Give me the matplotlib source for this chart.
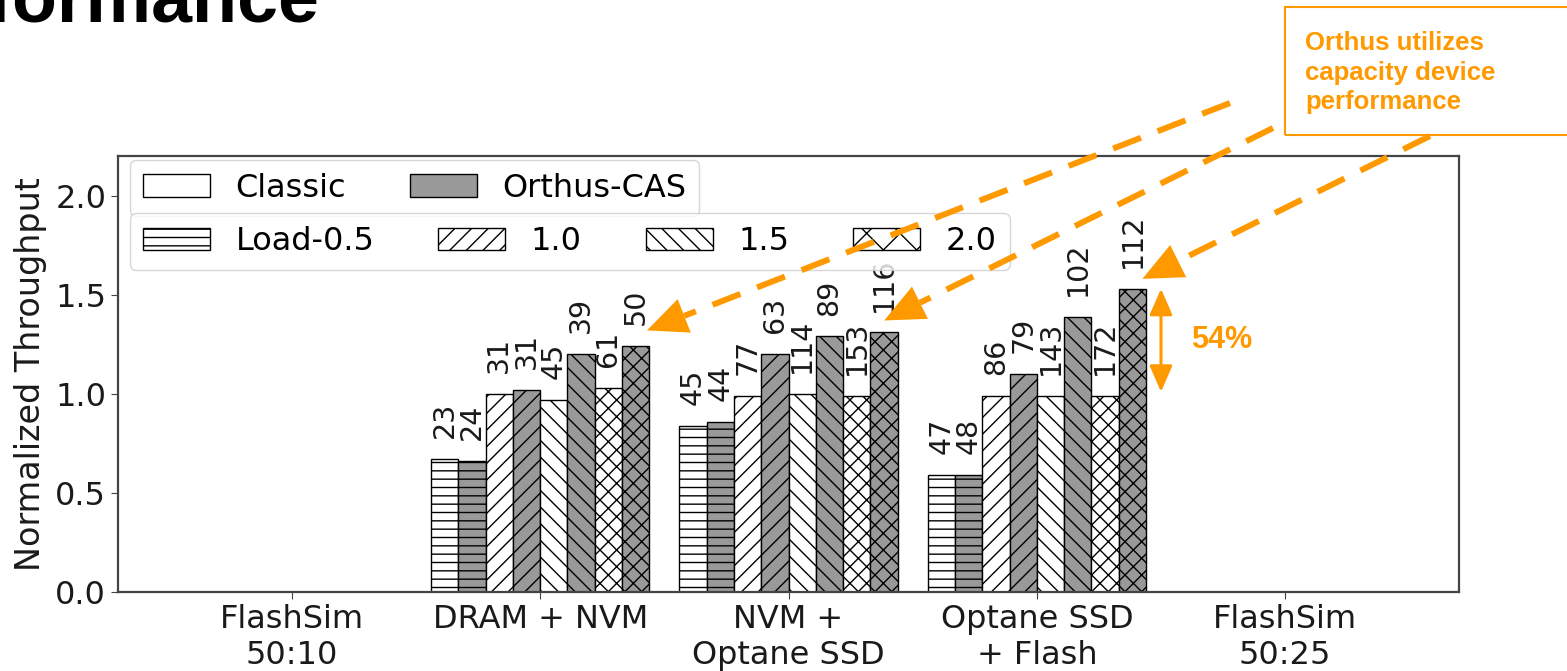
import numpy as np
import matplotlib.pyplot as plt
from matplotlib.patches import Patch, Rectangle, Polygon
from matplotlib.lines import Line2D
from matplotlib.transforms import IdentityTransform

# Data
groups = ['FlashSim\n50:10', 'DRAM + NVM', 'NVM +\nOptane SSD', 'Optane SSD\n+ Flash', 'FlashSim\n50:25']
data_groups = [1, 2, 3]          # only these groups have bars
loads = ['Load-0.5', '1.0', '1.5', '2.0']
hatches = ['--', '//', '\\\\', 'xx']
legend_hatches = ['--', '//', '\\\\', 'x']

classic_tput = [[0.67, 1.00, 0.97, 1.03],
                [0.84, 0.99, 1.00, 0.99],
                [0.59, 0.99, 0.99, 0.99]]
orthus_tput = [[0.66, 1.02, 1.20, 1.24],
               [0.86, 1.20, 1.29, 1.31],
               [0.59, 1.10, 1.39, 1.53]]
classic_lbl = [[23, 31, 45, 61], [45, 77, 114, 153], [47, 86, 143, 172]]
orthus_lbl = [[24, 31, 39, 50], [44, 63, 89, 116], [48, 79, 102, 112]]

W, H = 1567, 671
orange = '#FF9900'
grey = '#999999'
fs = 23

plt.rcParams['hatch.linewidth'] = 1.0

fig = plt.figure(figsize=(W / 100, H / 100), dpi=100)
ax = fig.add_axes([118 / W, 1 - 592 / H, (1459 - 118) / W, (592 - 156) / H])

bw = 0.11
tops = {}  # (group, load, series) -> (x, y)
for gi, g in enumerate(data_groups):
    for j in range(4):
        for s, (vals, lbls, fc) in enumerate([(classic_tput, classic_lbl, 'white'),
                                              (orthus_tput, orthus_lbl, grey)]):
            k = 2 * j + s
            x = g + (k - 3.5) * bw
            v = vals[gi][j]
            ax.bar(x, v, width=bw, facecolor=fc, edgecolor='black', hatch=hatches[j], lw=1.0)
            ax.annotate(str(lbls[gi][j]), (x, v), xytext=(0, 15), textcoords='offset points',
                        rotation=90, ha='center', va='bottom', fontsize=20.5, color='#1a1a1a')
            tops[(g, j, s)] = (x, v)

ax.set_xlim(-0.7, 4.7)
ax.set_ylim(0, 2.2)
ax.set_xticks(range(len(groups)))
ax.set_xticklabels(groups)
ax.set_yticks([0, 0.5, 1.0, 1.5, 2.0])
ax.tick_params(labelsize=fs, length=5, color='#444444', labelcolor='#1a1a1a')
ax.set_ylabel('Normalized Throughput', fontsize=24, color='#1a1a1a', labelpad=6)
for sp in ax.spines.values():
    sp.set_color('#444444')
    sp.set_linewidth(1.6)

# legends
h1 = [Patch(facecolor='white', edgecolor='black', label='Classic'),
      Patch(facecolor=grey, edgecolor='black', label='Orthus-CAS')]
h2 = [Patch(facecolor='white', edgecolor='black', hatch=h, label=l) for h, l in zip(legend_hatches, loads)]
leg1 = ax.legend(handles=h1, loc='upper left', bbox_to_anchor=(0.009, 0.991), borderaxespad=0,
                 ncol=2, fontsize=fs, handlelength=2.1, columnspacing=2.0, edgecolor='#cccccc')
ax.add_artist(leg1)
ax.legend(handles=h2, loc='upper left', bbox_to_anchor=(0.009, 0.869), borderaxespad=0,
          ncol=4, fontsize=fs, handlelength=2.1, columnspacing=2.0, edgecolor='#cccccc')

# slide title (cut off at the top, as on the slide)
fig.text(319 / W, 1 - 21 / H, 'Performance', ha='right', va='baseline',
         fontsize=53, fontweight='bold', family='Liberation Sans', color='black')

# callout box
fig.add_artist(Rectangle((1285 / W, 1 - 135 / H), (1700 - 1285) / W, 128 / H,
                         transform=fig.transFigure, fill=False, edgecolor=orange, lw=1.5))
fig.text(1305 / W, 1 - 31 / H, 'Orthus utilizes\ncapacity device\nperformance', ha='left', va='top',
         fontsize=18.5, fontweight='bold', family='Liberation Sans', color=orange, linespacing=1.3)


def dashed_arrow(start_px, tip_data, head_len=40, head_w=36):
    tip = np.array(ax.transData.transform(tip_data))
    start = np.array([start_px[0], H - start_px[1]], dtype=float)
    u = (tip - start) / np.hypot(*(tip - start))
    n = np.array([-u[1], u[0]])
    base = tip - u * head_len
    fig.add_artist(Line2D([start[0], base[0]], [start[1], base[1]], transform=IdentityTransform(),
                          color=orange, lw=4.3, linestyle=(0, (5, 3))))
    fig.add_artist(Polygon([tip, base + n * head_w / 2, base - n * head_w / 2], closed=True,
                           transform=IdentityTransform(), facecolor=orange, edgecolor='none'))


x, v = tops[(1, 3, 1)]
dashed_arrow((1230, 103), (x + 0.045, v + 0.08))
x, v = tops[(2, 3, 1)]
dashed_arrow((1273, 128), (x, v + 0.06))
x, v = tops[(3, 3, 1)]
dashed_arrow((1430, 136), (x + 0.04, v + 0.05))

# 54% gap arrow
x, v_top = tops[(3, 3, 1)]
_, v_bot = tops[(3, 3, 0)]
xa = x + bw / 2 + 0.06
ax.annotate('', xy=(xa, v_top), xytext=(xa, v_bot + 0.02),
            arrowprops=dict(arrowstyle='<|-|>,head_length=0.8,head_width=0.35', color=orange,
                            lw=2.2, mutation_scale=20, shrinkA=0, shrinkB=0), annotation_clip=False)
ax.text(xa + 0.12, (v_top + v_bot) / 2 + 0.01, '54%', ha='left', va='center', fontsize=22,
        fontweight='bold', family='Liberation Sans', color=orange)

fig.savefig('out.png', dpi=100)
